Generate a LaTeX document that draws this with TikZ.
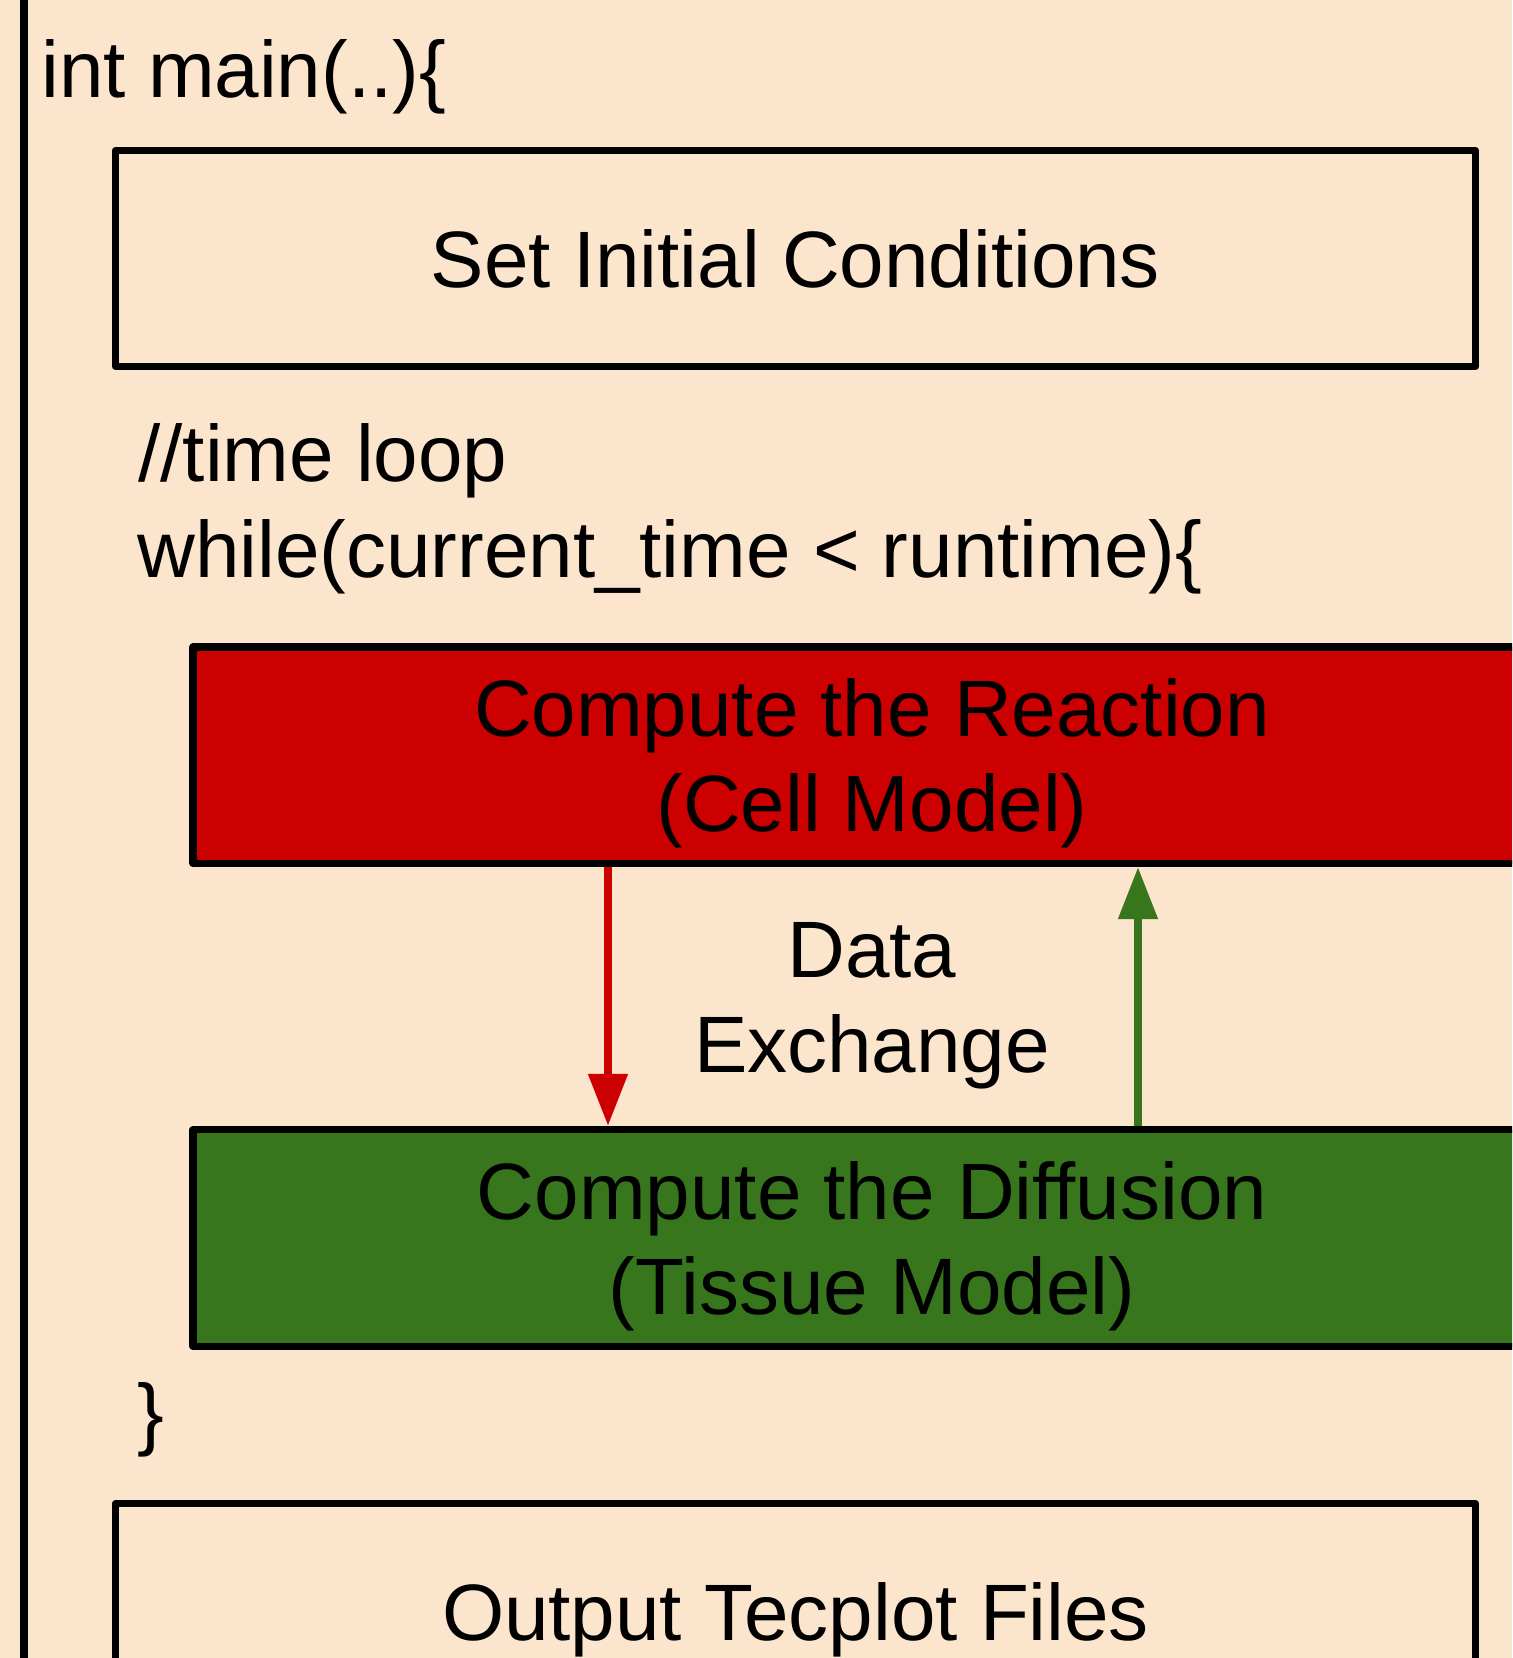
\documentclass[tikz,border=0pt]{standalone}
\usepackage{fontspec}
\setmainfont{Liberation Sans}
\usetikzlibrary{arrows.meta}
\definecolor{bgpeach}{HTML}{FCE5CD}
\definecolor{boxred}{HTML}{CC0000}
\definecolor{boxgreen}{HTML}{38761D}
\begin{document}
\begin{tikzpicture}[x=0.5pt,y=-0.5pt,
  every node/.style={font=\fontsize{40}{47.5}\selectfont},
  codetext/.style={anchor=base west, inner sep=0pt},
  block/.style={draw=black, line width=3.6pt, line join=round, minimum width=680pt, minimum height=108pt, align=center, inner sep=0pt, text depth=0pt},
  flowarrow/.style={line width=4pt, -{Triangle[width=19pt,length=26pt]}}
]
\useasboundingbox (0,0) rectangle (1512,1658);
\clip (0,0) rectangle (1512,1658);
\fill[bgpeach] (0,0) rectangle (1512,1658);
\draw[line width=4pt] (24,-10) -- (24,1670);
\node[codetext] (main) at (41,98) {int main(..)\{};
\node[block, fill=bgpeach] (init) at (795.5,258.5) {Set Initial Conditions};
\node[codetext] (comment) at (138,481) {//time loop};
\node[codetext] (while) at (137,577) {while(current\_time < runtime)\{};
\node[block, fill=boxred, minimum width=679pt, minimum height=108.25pt] (react) at (872,755.25) {Compute the Reaction\\(Cell Model)};
\node[block, fill=boxgreen, minimum width=679pt, minimum height=108.5pt] (diff) at (872,1238) {Compute the Diffusion\\(Tissue Model)};
\node[align=center, inner sep=0pt, text depth=0pt] (data) at (872,997) {Data\\Exchange};
\node[codetext] (close) at (137,1440) {\}};
\node[block, fill=bgpeach] (output) at (795.5,1611.5) {Output Tecplot Files};
\coordinate (rx) at (608,0);
\coordinate (gx) at (1138,0);
\draw[flowarrow, boxred] (rx |- react.south) -- (rx |- diff.north);
\draw[flowarrow, boxgreen] (gx |- diff.north) -- (gx |- react.south);
\end{tikzpicture}
\end{document}
